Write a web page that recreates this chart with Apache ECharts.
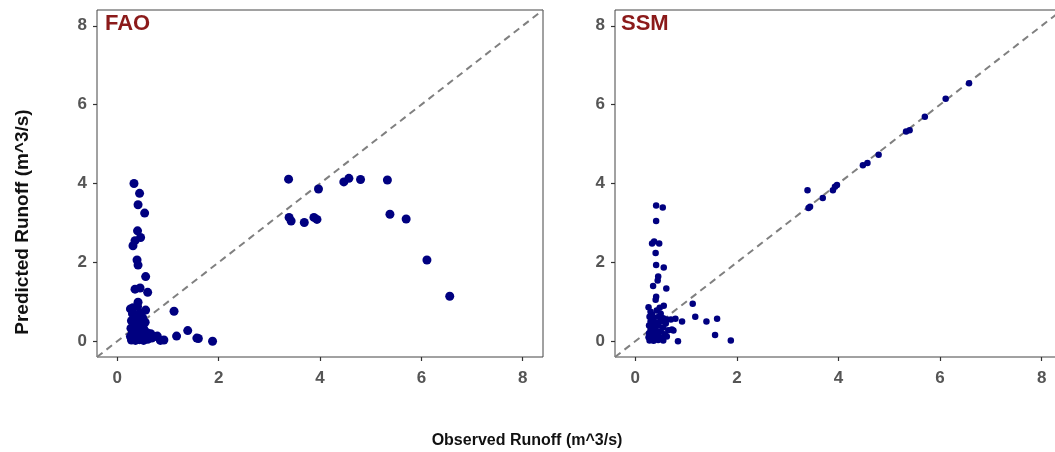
<!DOCTYPE html>
<html>
<head>
<meta charset="utf-8">
<script src="https://cdn.jsdelivr.net/npm/echarts@6/dist/echarts.min.js"></script>
<style>
html,body{margin:0;padding:0;background:#fff;}
#chart{width:1055px;height:452px;}
</style>
</head>
<body>
<div id="chart"></div>
<script>
// ---- data ----
const panelTitles = ['FAO', 'SSM'];
const tickValues = [0, 2, 4, 6, 8];
const axisRange = [-0.4, 8.4];
const refLine = [[-0.4, -0.4], [8.4, 8.4]];
const xTitle = 'Observed Runoff (m^3/s)';
const yTitle = 'Predicted Runoff (m^3/s)';

const faoObserved = [
  0.33,0.44,0.41,0.54,0.40,0.46,0.35,0.31,0.39,0.41,0.56,0.35,0.45,0.60,0.41,
  0.26,0.56,0.30,0.45,0.35,0.50,0.28,0.40,0.55,0.32,0.46,0.27,0.38,0.52,0.30,
  0.43,0.58,0.26,0.35,0.48,0.62,0.28,0.36,0.44,0.52,0.60,0.68,0.74,0.79,0.85,
  0.92,0.66,0.31,0.40,
  1.12,1.17,1.39,1.57,1.60,1.88,
  3.38,3.97,4.47,4.57,4.80,5.33,3.39,3.43,3.69,3.88,3.94,5.38,5.70,6.11,6.56
];
const faoPredicted = [
  4.00,3.75,3.46,3.25,2.80,2.63,2.55,2.42,2.06,1.93,1.64,1.32,1.35,1.24,0.99,
  0.82,0.79,0.70,0.72,0.62,0.60,0.52,0.50,0.48,0.42,0.40,0.33,0.30,0.32,0.22,
  0.20,0.22,0.12,0.10,0.12,0.15,0.03,0.02,0.04,0.02,0.05,0.08,0.12,0.13,0.02,
  0.03,0.19,0.85,0.88,
  0.76,0.13,0.27,0.08,0.07,0.00,
  4.11,3.86,4.04,4.13,4.10,4.09,3.14,3.05,3.01,3.14,3.09,3.22,3.10,2.06,1.14
];

const ssmObserved = [
  3.39,3.41,3.44,3.69,3.89,3.93,3.97,4.48,4.57,4.79,5.33,5.40,5.70,6.11,6.57,
  0.41,0.54,0.41,0.33,0.37,0.47,0.40,0.41,0.56,0.45,0.44,0.35,0.61,0.41,0.40,
  0.26,0.56,
  1.13,1.18,1.40,1.61,1.57,1.88,0.84,0.92,0.79,0.75,
  0.30,0.42,0.50,0.28,0.36,0.46,0.55,0.62,0.70,0.30,0.40,0.50,0.60,0.27,0.35,
  0.45,0.55,0.30,0.40,0.50,0.65,0.72,0.27,0.36,0.46,0.58,0.26,0.34,0.42,0.52,
  0.62,0.28,0.36,0.45,0.55,0.33,0.48
];
const ssmPredicted = [
  3.83,3.38,3.41,3.63,3.83,3.92,3.96,4.46,4.52,4.73,5.32,5.35,5.69,6.15,6.54,
  3.44,3.39,3.05,2.48,2.53,2.48,2.24,1.93,1.87,1.64,1.54,1.40,1.34,1.13,1.05,
  0.86,0.90,
  0.95,0.62,0.50,0.57,0.16,0.02,0.00,0.50,0.57,0.27,
  0.75,0.78,0.70,0.62,0.60,0.62,0.58,0.55,0.55,0.50,0.48,0.50,0.45,0.40,0.38,
  0.40,0.35,0.30,0.28,0.25,0.28,0.30,0.20,0.18,0.20,0.18,0.10,0.08,0.10,0.08,
  0.12,0.02,0.01,0.03,0.02,0.68,0.85
];

// ---- chart ----
const pair = (xs, ys) => xs.map((x, i) => [x, ys[i]]);
const grids = [
  {left: 97, top: 10, width: 446, height: 347},
  {left: 615, top: 10, width: 447, height: 347}
];
const pointSizes = [9, 6.5];
const seriesData = [pair(faoObserved, faoPredicted), pair(ssmObserved, ssmPredicted)];

const labelStyle = {color: '#555', fontSize: 17, fontWeight: 'bold', fontFamily: 'Liberation Sans, Arial, sans-serif'};

const option = {
  backgroundColor: '#fff',
  animation: false,
  grid: grids.map(g => Object.assign({show: true, borderColor: '#444', borderWidth: 1, backgroundColor: '#fff', containLabel: false, outerBoundsMode: 'none'}, g)),
  xAxis: grids.map((g, i) => ({
    gridIndex: i, type: 'value', min: axisRange[0], max: axisRange[1],
    axisLine: {show: false, onZero: false}, splitLine: {show: false},
    axisTick: {show: true, customValues: tickValues, length: 4, lineStyle: {color: '#333', width: 1.2}},
    axisLabel: Object.assign({customValues: tickValues, margin: 13}, labelStyle)
  })),
  yAxis: grids.map((g, i) => ({
    gridIndex: i, type: 'value', min: axisRange[0], max: axisRange[1],
    axisLine: {show: false, onZero: false}, splitLine: {show: false},
    axisTick: {show: true, customValues: tickValues, length: 4, lineStyle: {color: '#333', width: 1.2}},
    axisLabel: Object.assign({customValues: tickValues, margin: 10}, labelStyle)
  })),
  series: [].concat(...grids.map((g, i) => ([
    {
      type: 'line', xAxisIndex: i, yAxisIndex: i, data: refLine, symbol: 'none', silent: true,
      lineStyle: {color: '#808080', width: 2, type: [7, 5]}, z: 2
    },
    {
      type: 'scatter', xAxisIndex: i, yAxisIndex: i, data: seriesData[i],
      symbolSize: pointSizes[i], itemStyle: {color: '#000080', opacity: 1}, z: 3
    }
  ]))),
  graphic: [
    {type: 'text', left: 105, top: 13, z: 10, style: {text: panelTitles[0], fill: '#8B1A1A', font: 'bold 22px Liberation Sans, Arial, sans-serif'}},
    {type: 'text', left: 621, top: 13, z: 10, style: {text: panelTitles[1], fill: '#8B1A1A', font: 'bold 22px Liberation Sans, Arial, sans-serif'}},
    {type: 'text', x: 527, y: 441, z: 10, style: {text: xTitle, fill: '#111', font: 'bold 16px Liberation Sans, Arial, sans-serif', textAlign: 'center', textVerticalAlign: 'middle'}},
    {type: 'text', x: 23, y: 222, rotation: Math.PI / 2, z: 10, style: {text: yTitle, fill: '#111', font: 'bold 19px Liberation Sans, Arial, sans-serif', textAlign: 'center', textVerticalAlign: 'middle'}}
  ]
};

const chart = echarts.init(document.getElementById('chart'), null, {renderer: 'canvas'});
chart.setOption(option);
</script>
</body>
</html>
